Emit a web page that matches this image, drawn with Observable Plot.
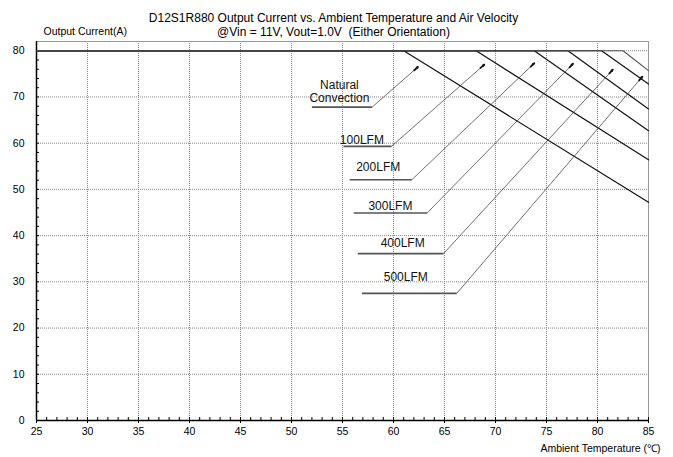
<!DOCTYPE html>
<html><head><meta charset="utf-8">
<script src="https://cdn.jsdelivr.net/npm/d3@7"></script>
<script src="https://cdn.jsdelivr.net/npm/@observablehq/plot@0.6"></script>
<style>body{margin:0;background:#fff}</style>
</head><body><div id="chart"></div>
<script>
// ---- text ----
const title = "D12S1R880 Output Current vs. Ambient Temperature and Air Velocity";
const subtitle = "@Vin = 11V, Vout=1.0V  (Either Orientation)";
const yLabel = "Output Current(A)";
const xLabel = "Ambient Temperature (\u2103)";

// ---- axes ----
const xTicks = [25, 30, 35, 40, 45, 50, 55, 60, 65, 70, 75, 80, 85];
const yTicks = [0, 10, 20, 30, 40, 50, 60, 70, 80];
const xMinor = d3.range(25, 86, 1);
const yMinor = d3.range(0, 81, 2);

// ---- derating curves ----
const series = ["Natural Convection", "100LFM", "200LFM", "300LFM", "400LFM", "500LFM"];
const startTemp = [25, 25, 25, 25, 25, 25];
const maxCurrent = [80, 80, 80, 80, 80, 80];
const kneeTemp = [61.0, 68.1, 73.8, 77.1, 80.4, 82.5];
const endTemp = [85, 85, 85, 85, 85, 85];
const endCurrent = [47.2, 56.4, 62.7, 67.4, 72.8, 75.7];

// ---- annotations ----
const labelText = ["Natural\nConvection", "100LFM", "200LFM", "300LFM", "400LFM", "500LFM"];
const labelTemp = [54.7, 56.9, 58.5, 59.7, 60.9, 61.2];
const labelCurrent = [71.3, 60.8, 55.0, 46.4, 38.4, 31.2];
const underlineStart = [52.0, 55.1, 55.7, 56.1, 56.5, 56.9];
const underlineEnd = [57.9, 59.8, 61.8, 63.3, 64.9, 66.2];
const underlineCurrent = [67.8, 59.3, 52.1, 44.9, 36.1, 27.5];
const arrowTemp = [62.4, 68.9, 73.8, 77.6, 81.5, 84.4];
const arrowCurrent = [76.5, 77.0, 77.3, 77.2, 75.9, 74.4];

// ---- layout ----
const W = 673, H = 457;
const mL = 36, mR = 25, mT = 41, mB = 37;
const fw = W - mL - mR, fh = H - mT - mB;
const xDomain = [25, 85], yDomain = [0, 82];

const curves = series.flatMap((s, i) => [
  {s, t: startTemp[i], a: maxCurrent[i]},
  {s, t: kneeTemp[i], a: maxCurrent[i]},
  {s, t: endTemp[i], a: endCurrent[i]}
]);

const sx = d3.scaleLinear(xDomain, [mL, W - mR]);
const sy = d3.scaleLinear(yDomain, [H - mB, mT]);
const ann = series.map((s, i) => {
  const px = sx(arrowTemp[i]) - sx(underlineEnd[i]);
  const py = sy(arrowCurrent[i]) - sy(underlineCurrent[i]);
  const len = Math.hypot(px, py);
  const f = 5 / len;
  return {
    s, text: labelText[i], lt: labelTemp[i], la: labelCurrent[i],
    u1: underlineStart[i], u2: underlineEnd[i], ua: underlineCurrent[i],
    at: arrowTemp[i], aa: arrowCurrent[i],
    ht: arrowTemp[i] - f * (arrowTemp[i] - underlineEnd[i]),
    ha: arrowCurrent[i] - f * (arrowCurrent[i] - underlineCurrent[i])
  };
});

const font = "'Liberation Sans', Arial, Helvetica, sans-serif";

const plot = Plot.plot({
  width: W, height: H,
  marginLeft: mL, marginRight: mR, marginTop: mT, marginBottom: mB,
  style: {fontFamily: font, background: "#fff", color: "#000"},
  x: {domain: xDomain},
  y: {domain: yDomain},
  marks: [
    Plot.gridX(xTicks.slice(1, -1), {stroke: "#888", strokeOpacity: 1, strokeDasharray: "1,1"}),
    Plot.gridY(yTicks.slice(1), {stroke: "#888", strokeOpacity: 1, strokeDasharray: "1,1"}),
    Plot.frame({stroke: "#999"}),
    Plot.tickX(xMinor, {x: d => d, insetTop: fh - 3, stroke: "#000"}),
    Plot.tickY(yMinor, {y: d => d, insetRight: fw - 3, stroke: "#000"}),
    Plot.ruleX([25], {stroke: "#000", strokeWidth: 1.5}),
    Plot.ruleY([0], {stroke: "#000", strokeWidth: 1.5}),
    Plot.axisX(xTicks, {tickSize: 3, tickPadding: 4, fontSize: 10.5, label: null}),
    Plot.axisY(yTicks, {tickSize: 0, tickPadding: 12, fontSize: 10.5, label: null}),
    Plot.line(curves, {x: "t", y: "a", z: "s", stroke: d => d.s === "500LFM" ? "#555" : "#111", strokeWidth: 1.2}),
    Plot.link(ann, {x1: "u1", x2: "u2", y1: "ua", y2: "ua", stroke: "#555", strokeWidth: 1.6}),
    Plot.link(ann, {x1: "u2", y1: "ua", x2: "at", y2: "aa", stroke: "#333", strokeWidth: 0.7}),
    Plot.arrow(ann, {x1: "ht", y1: "ha", x2: "at", y2: "aa", stroke: "#111", strokeWidth: 1.8, headLength: 5, headAngle: 30}),
    Plot.text(ann, {x: "lt", y: "la", text: "text", fontSize: 12, lineHeight: 1.1, fill: "#111"}),
    Plot.text([title], {text: d => d, frameAnchor: "top", dx: -9, dy: -28, fontSize: 12}),
    Plot.text([subtitle], {text: d => d, frameAnchor: "top", dx: -9, dy: -14, fontSize: 12}),
    Plot.text([yLabel], {text: d => d, frameAnchor: "top-left", textAnchor: "start", dx: 7, dy: -14, fontSize: 10.5}),
    Plot.text([xLabel], {text: d => d, frameAnchor: "bottom-right", textAnchor: "end", dx: 12, dy: 31, fontSize: 10.5})
  ]
});
document.getElementById("chart").appendChild(plot);
</script>
</body></html>
